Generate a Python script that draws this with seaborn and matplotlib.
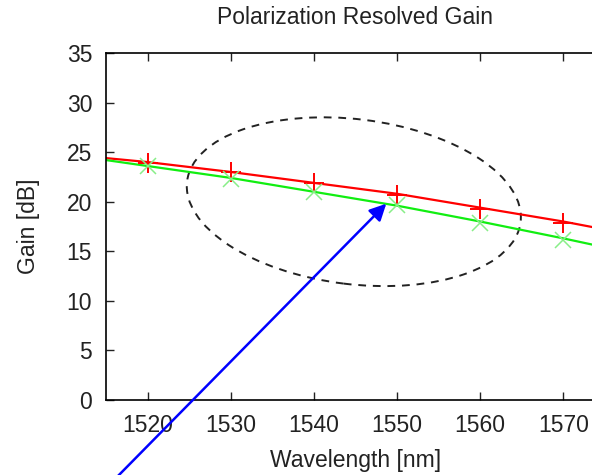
import matplotlib
matplotlib.use("Agg")
import matplotlib.pyplot as plt
import matplotlib.transforms as mtransforms
from matplotlib.patches import Ellipse
import pandas as pd
import seaborn as sns

# measured gain per polarization
wavelength = [1520, 1530, 1540, 1550, 1560, 1570]
gain_red = [23.9, 23.0, 21.9, 20.7, 19.3, 17.9]
gain_green = [23.6, 22.3, 21.0, 19.7, 17.9, 16.1]

# fitted curves
fit_wavelength = [1515, 1520, 1530, 1540, 1550, 1560, 1570, 1575]
fit_red = [24.4, 24.0, 23.0, 21.9, 20.8, 19.4, 18.0, 17.2]
fit_green = [24.2, 23.6, 22.4, 21.0, 19.6, 18.0, 16.3, 15.4]

x_ticks = [1520, 1530, 1540, 1550, 1560, 1570]
y_ticks = [0, 5, 10, 15, 20, 25, 30, 35]

sns.set_style("ticks")
plt.rcParams['font.family'] = ['Liberation Sans', 'DejaVu Sans']
fs = 16.5
txt = '#222222'

fig = plt.figure(figsize=(5.92, 4.75), dpi=100)
ax = fig.add_axes([106 / 592, 75 / 475, 499 / 592, 347 / 475])

fits = pd.DataFrame({'wl': fit_wavelength, 'red': fit_red, 'green': fit_green})
pts = pd.DataFrame({'wl': wavelength, 'red': gain_red, 'green': gain_green})

sns.lineplot(data=fits, x='wl', y='red', ax=ax, color='#ff0000', linewidth=1.6)
sns.lineplot(data=fits, x='wl', y='green', ax=ax, color='#11ee11', linewidth=1.6)
ax.plot(pts.wl, pts.red, linestyle='none', marker='+', markersize=14,
        markeredgewidth=1.4, color='#ff0000')
ax.plot(pts.wl, pts.green, linestyle='none', marker='x', markersize=11,
        markeredgewidth=1.1, color='#88ee88')

ax.set_xlim(1515, 1575)
ax.set_ylim(0, 35)
ax.set_xticks(x_ticks)
ax.set_yticks(y_ticks)
ax.tick_params(direction='in', length=6, width=1, labelsize=fs,
               top=True, right=True, colors=txt)
ax.tick_params(axis='x', pad=10)
ax.tick_params(axis='y', pad=10)
for s in ax.spines.values():
    s.set_linewidth(1.2)
    s.set_color('black')

ax.set_xlabel('Wavelength [nm]', fontsize=fs, color=txt, labelpad=9)
ax.set_ylabel('Gain [dB]', fontsize=fs, color=txt, labelpad=19)
fig.text(355 / 592, 1 - 18 / 475, 'Polarization Resolved Gain', ha='center',
         va='center', fontsize=fs, color=txt)

# dashed ellipse, sized in inches, centred at a data point
ell_tr = fig.dpi_scale_trans + mtransforms.ScaledTranslation(1544.8, 20.0, ax.transData)
ell = Ellipse((0, 0), 3.36, 1.65, angle=-7, transform=ell_tr, fill=False,
              edgecolor='#222222', linestyle=(0, (4, 3.5)), linewidth=1.4, clip_on=False)
ax.add_patch(ell)

ax.annotate('', xy=(1548.7, 19.8), xytext=(1516.4, -7.7),
            arrowprops=dict(arrowstyle='-|>,head_length=1.0,head_width=0.5',
                            color='#0000ff', lw=1.8, shrinkA=0, shrinkB=0),
            annotation_clip=False)

fig.savefig('out.png', dpi=100)
